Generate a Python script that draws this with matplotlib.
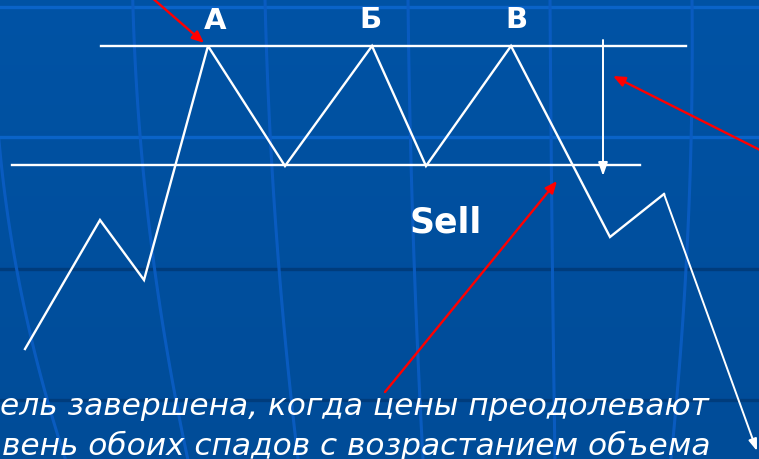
import numpy as np
import matplotlib
matplotlib.use("Agg")
import matplotlib.pyplot as plt
from matplotlib.colors import LinearSegmentedColormap

# ---- data (pixel space of the slide) ----
price_x = [25, 100, 144, 208, 285, 372, 426, 511, 610, 664, 757]
price_y = [350, 221, 281, 47, 167, 47, 167, 47, 238, 195, 452]

resistance_y = 47
resistance_x = [101, 686]
support_y = 166
support_x = [12, 640]

peak_labels = ["А", "Б", "В"]
peak_label_x = [215, 370, 516]
peak_label_y = [21, 20, 20]

target_x = 603
target_y = [41, 177]

red_arrows = [((150, -3), (204, 44)),
              ((762, 152), (613, 77)),
              ((385, 393), (557, 182))]

caption_lines = ["ель завершена, когда цены преодолевают",
                 "вень обоих спадов с возрастанием объема"]

# decorative grid
grid_h_bright = [8, 138]
grid_h_dark = [270, 401]
grid_v = [
    [(-6, 0), (5, 200), (37, 360), (65, 460)],
    [(133, 0), (145, 200), (170, 360), (187, 460)],
    [(265, 0), (276, 230), (298, 460)],
    [(408, 0), (413, 230), (423, 460)],
    [(550, 0), (552, 230), (555, 460)],
    [(692, 0), (688, 230), (671, 460)],
]

BG = "#01509F"
BRIGHT = "#0A63C8"
VLINE = "#0A5CC2"
DARK = "#003C7C"

fig = plt.figure(figsize=(7.59, 4.60), dpi=100)
fig.patch.set_facecolor(BG)
ax = fig.add_axes([0, 0, 1, 1])
ax.set_xlim(0, 759)
ax.set_ylim(460, 0)
ax.axis("off")
ax.set_facecolor(BG)

grad = np.linspace(0, 1, 256).reshape(-1, 1)
cm = LinearSegmentedColormap.from_list("bg", ["#0153A5", "#004C98"])
ax.imshow(grad, extent=[0, 759, 460, 0], aspect="auto", cmap=cm, zorder=0)

for yy in grid_h_bright:
    ax.plot([0, 759], [yy, yy], color=BRIGHT, lw=2.4, zorder=1)
for yy in grid_h_dark:
    ax.plot([0, 759], [yy, yy], color=DARK, lw=2.4, zorder=1)
for pts in grid_v:
    xs = [p[0] for p in pts]
    ys = [p[1] for p in pts]
    c = np.polyfit(ys, xs, 2)
    yy = np.linspace(0, 460, 100)
    ax.plot(np.polyval(c, yy), yy, color=VLINE, lw=2.2, alpha=0.95, zorder=1)

ax.plot(resistance_x, [resistance_y] * 2, color="white", lw=1.7, zorder=3)
ax.plot(support_x, [support_y] * 2, color="white", lw=1.7, zorder=3)

ax.plot(price_x[:-1], price_y[:-1], color="white", lw=1.7, zorder=4,
        solid_joinstyle="miter")
ax.annotate("", xy=(price_x[-1], price_y[-1]), xytext=(price_x[-2], price_y[-2]),
            arrowprops=dict(arrowstyle="-|>,head_length=0.7,head_width=0.25",
                            color="white", lw=1.4, shrinkA=0, shrinkB=0),
            zorder=4)

ax.annotate("", xy=(target_x, target_y[1]), xytext=(target_x, target_y[0]),
            arrowprops=dict(arrowstyle="-|>,head_length=0.8,head_width=0.28",
                            color="white", lw=1.4, shrinkA=0, shrinkB=0),
            zorder=4)

for (x0, y0), (x1, y1) in red_arrows:
    ax.annotate("", xy=(x1, y1), xytext=(x0, y0),
                arrowprops=dict(arrowstyle="-|>,head_length=0.7,head_width=0.3",
                                color="#FF0000", lw=1.7, shrinkA=0, shrinkB=0),
                zorder=5)

for t, x, y in zip(peak_labels, peak_label_x, peak_label_y):
    ax.text(x, y, t, color="white", fontsize=21, fontweight="bold",
            ha="center", va="center", family="DejaVu Sans", zorder=6)

ax.text(446, 223, "Sell", color="white", fontsize=25, fontweight="bold",
        ha="center", va="center", family="DejaVu Sans", zorder=6)

ax.text(0, 415, caption_lines[0], color="white", fontsize=22.5, style="italic",
        ha="left", va="baseline", family="DejaVu Sans", zorder=6)
ax.text(2, 455, caption_lines[1], color="white", fontsize=22.5, style="italic",
        ha="left", va="baseline", family="DejaVu Sans", zorder=6)

fig.savefig("out.png", dpi=100, facecolor=BG)
